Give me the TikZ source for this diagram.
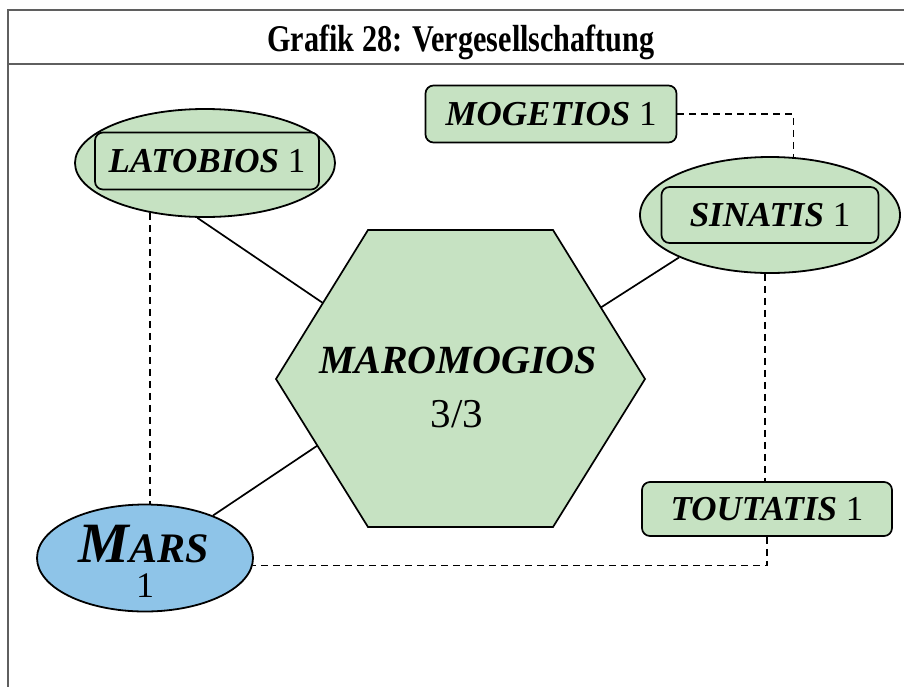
\documentclass[tikz,border=0pt]{standalone}
\usepackage{fontspec}
\setmainfont{Liberation Serif}
\usetikzlibrary{shapes.geometric,calc}
\definecolor{boxgreen}{RGB}{198,226,194}
\definecolor{marsblue}{RGB}{142,196,232}
\definecolor{framegray}{RGB}{95,95,95}
\tikzset{
  conn/.style={line width=1.7pt},
  dconn/.style={line width=1.7pt, dash pattern=on 7pt off 5pt},
  ell/.style={ellipse, draw, line width=1.8pt, fill=boxgreen, inner sep=0pt},
  rbox/.style={draw, line width=1.7pt, rounded corners=8pt, fill=boxgreen, inner sep=0pt,
    font=\fontsize{35}{42}\selectfont},
  hexline/.style={draw, line width=1.7pt, fill=boxgreen},
  txt/.style={inner sep=0pt, anchor=base}
}
\begin{document}
\begin{tikzpicture}[x=1pt,y=-1pt]
\useasboundingbox (0,0) rectangle (904,686);
% frame
\draw[framegray, line width=2pt] (912,10) -- (8,10) -- (8,700);
\draw[framegray, line width=2pt] (8,64) -- (912,64);
\node[txt, font=\fontsize{30.2}{36}\selectfont\bfseries] (title) at (461,51) {\scalebox{1}[1.25]{Grafik 28: Vergesellschaftung}};

% hexagon
\coordinate (h1) at (368,230);
\coordinate (h2) at (553,230);
\coordinate (h3) at (645,379);
\coordinate (h4) at (553,527);
\coordinate (h5) at (368,527);
\coordinate (h6) at (276,379);
\path[hexline] (h1) -- (h2) -- (h3) -- (h4) -- (h5) -- (h6) -- cycle;
\node[txt, font=\fontsize{40}{48}\selectfont\bfseries\itshape] (hexname) at (458,373) {MAROMOGIOS};
\node[txt, font=\fontsize{41}{48}\selectfont] (hexnum) at (457,427) {3/3};

% LATOBIOS
\node[ell, minimum width=260pt, minimum height=108pt] (lat) at (205,163) {};
\node[rbox, minimum width=224pt, minimum height=57pt] (latin) at (207,161) {\textbf{\textit{LATOBIOS}} 1};

% MOGETIOS
\node[rbox, minimum width=251pt, minimum height=57pt] (mog) at (551,114) {\textbf{\textit{MOGETIOS}} 1};

% SINATIS
\node[ell, minimum width=260pt, minimum height=116pt] (sin) at (770,215) {};
\node[rbox, minimum width=217pt, minimum height=56pt] (sinin) at (770,215) {\textbf{\textit{SINATIS}} 1};

% TOUTATIS
\node[rbox, minimum width=250pt, minimum height=54pt] (tou) at (767,509) {\textbf{\textit{TOUTATIS}} 1};

% MARS
\node[ellipse, draw, line width=1.8pt, fill=marsblue, minimum width=216pt, minimum height=107pt, inner sep=0pt] (mars) at (145,558) {};
\node[txt, font=\bfseries\itshape] (marsname) at (144,562) {\fontsize{57}{60}\selectfont M\fontsize{42}{48}\selectfont ARS};
\node[txt, font=\fontsize{36}{42}\selectfont] (marsnum) at (145,597) {1};

% solid connectors
\draw[conn] (lat.-98) -- ($(h6)!0.51!(h1)$);
\draw[conn] (sin.-155) -- ($(h2)!0.52!(h3)$);
\draw[conn] (mars.32) -- ($(h6)!0.45!(h5)$);

% dashed connectors
\draw[dconn] (lat.-138) -- (lat.-138 |- mars.north);
\draw[dconn] (mog.east) -| (sin.68);
\draw[dconn] (sin.-95) -- (sin.-95 |- tou.north);
\draw[dconn] (tou.south) |- (mars.-4);
\end{tikzpicture}
\end{document}
